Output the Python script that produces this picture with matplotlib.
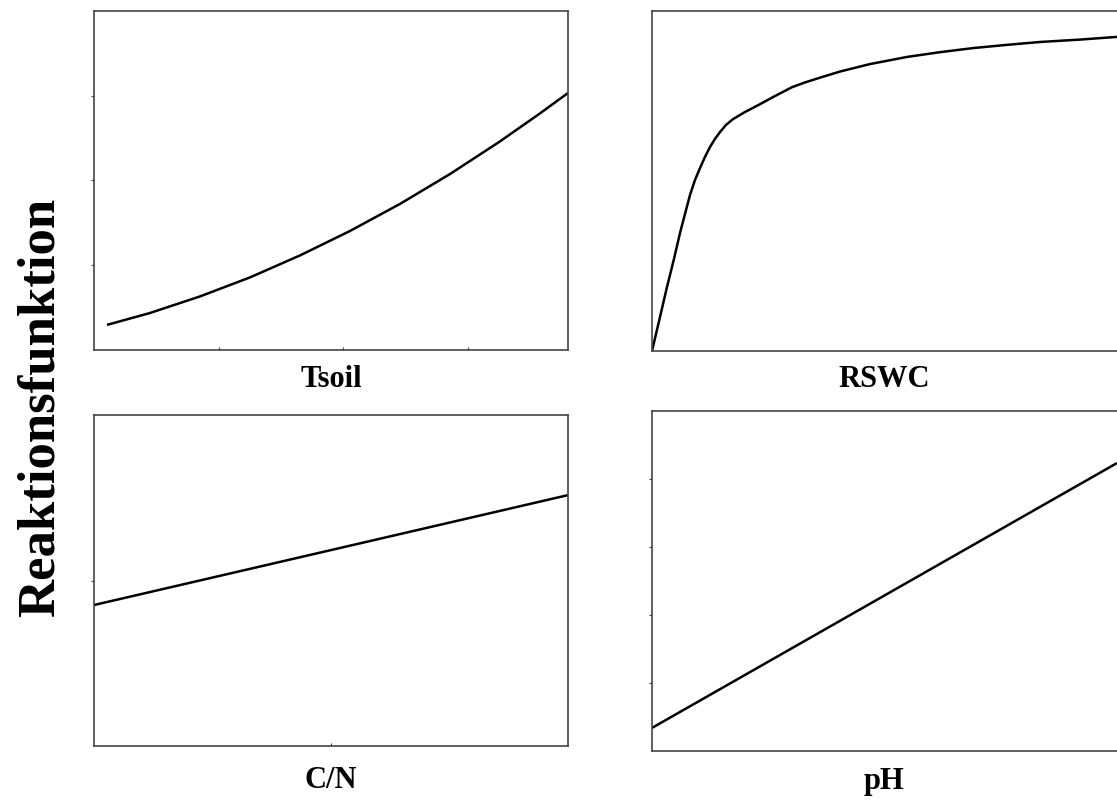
import numpy as np
import matplotlib.pyplot as plt

# Tsoil (degC) vs. response
tsoil_x = [0.52, 2.24, 4.25, 6.25, 8.26, 10.26, 12.27, 14.27, 16.27, 17.88, 19.0]
tsoil_y = [0.074, 0.109, 0.158, 0.214, 0.279, 0.351, 0.431, 0.519, 0.615, 0.698, 0.758]

# RSWC (fraction) vs. response
rswc_x = [0.0, 0.0169, 0.0316, 0.0464, 0.0591, 0.0696, 0.0802, 0.0907, 0.1013, 0.1118,
          0.1224, 0.1329, 0.1435, 0.1561, 0.1709, 0.1962, 0.2278, 0.2595, 0.2954, 0.3228,
          0.3544, 0.3966, 0.4599, 0.5380, 0.6076, 0.6772, 0.7447, 0.8186, 0.9030, 0.9810]
rswc_y = [0.0, 0.100, 0.188, 0.271, 0.347, 0.403, 0.459, 0.503, 0.538, 0.571,
          0.600, 0.624, 0.644, 0.665, 0.682, 0.703, 0.726, 0.750, 0.776, 0.790,
          0.804, 0.822, 0.844, 0.865, 0.879, 0.891, 0.900, 0.909, 0.916, 0.924]

# C/N vs. response
cn_x = [0.0, 1.0]
cn_y = [0.426, 0.758]

# pH vs. response
ph_x = [0.0, 0.981]
ph_y = [0.068, 0.847]

labels = ["Tsoil", "RSWC", "C/N", "pH"]

plt.rcParams['font.family'] = ['Liberation Serif', 'DejaVu Serif']

fig = plt.figure(figsize=(11.17, 8.06), dpi=100)

ax_tl = fig.add_axes([0.0842, 0.5658, 0.4243, 0.4206])
ax_tr = fig.add_axes([0.5837, 0.5645, 0.4243, 0.4218])
ax_bl = fig.add_axes([0.0842, 0.0744, 0.4243, 0.4107])
ax_br = fig.add_axes([0.5837, 0.0682, 0.4243, 0.4218])

line_kw = dict(color='black', lw=1.8, solid_joinstyle='round', solid_capstyle='butt')

ax_tl.plot(tsoil_x, tsoil_y, **line_kw)
ax_tl.set_xlim(0, 19)
ax_tl.set_ylim(0, 1)
ax_tl.set_xticks([5, 10, 15])
ax_tl.set_yticks([0.25, 0.5, 0.75])

ax_tr.plot(rswc_x, rswc_y, **line_kw)
ax_tr.set_xlim(0, 1)
ax_tr.set_ylim(0, 1)
ax_tr.set_xticks([])
ax_tr.set_yticks([])

ax_bl.plot(cn_x, cn_y, **line_kw)
ax_bl.set_xlim(0, 1)
ax_bl.set_ylim(0, 1)
ax_bl.set_xticks([0.5])
ax_bl.set_yticks([0.5])

ax_br.plot(ph_x, ph_y, **line_kw)
ax_br.set_xlim(0, 1)
ax_br.set_ylim(0, 1)
ax_br.set_xticks([])
ax_br.set_yticks([0.2, 0.4, 0.6, 0.8])

for ax in [ax_tl, ax_tr, ax_bl, ax_br]:
    for s in ax.spines.values():
        s.set_color('#444444')
        s.set_linewidth(1.2)
    ax.tick_params(axis='y', direction='out', length=2, color='#444444', labelleft=False)
    ax.tick_params(axis='x', direction='in', length=2, color='#444444', labelbottom=False)

fig.text(0.2963, 0.529, labels[0], ha='center', va='center', fontsize=22, fontweight='bold')
fig.text(0.7914, 0.529, labels[1], ha='center', va='center', fontsize=22, fontweight='bold')
fig.text(0.2963, 0.032, labels[2], ha='center', va='center', fontsize=22, fontweight='bold')
fig.text(0.7914, 0.030, labels[3], ha='center', va='center', fontsize=22, fontweight='bold')

fig.text(0.036, 0.494, "Reaktionsfunktion", rotation=90, ha='center', va='center',
         fontsize=38, fontweight='bold')

fig.savefig("out.png", dpi=100)
